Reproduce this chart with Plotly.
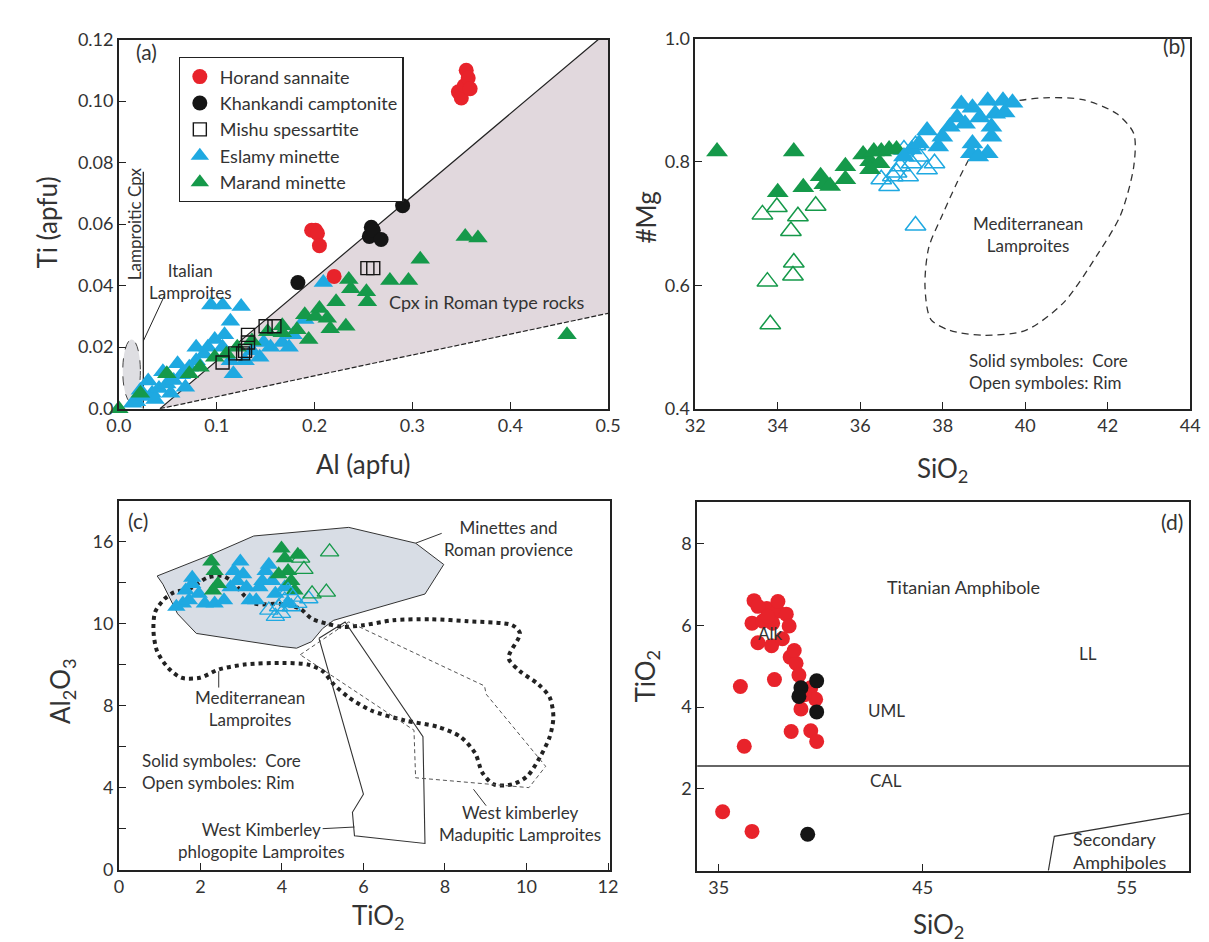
import plotly.graph_objects as go

W, H = 1209, 942
FONT = "Lato"
TXT = "#333333"
RED = "#e8232b"
BLACK = "#151515"
BLUE = "#1fa9e1"
GREEN = "#15994a"

# ---------------- Panel (a): Ti vs Al (apfu) ----------------
A_RED_AL = [0.347, 0.350, 0.353, 0.355, 0.357, 0.359, 0.197, 0.201, 0.203, 0.205, 0.220]
A_RED_TI = [0.103, 0.101, 0.105, 0.110, 0.1075, 0.104, 0.058, 0.058, 0.057, 0.053, 0.043]
A_BLK_AL = [0.183, 0.258, 0.256, 0.260, 0.268, 0.290]
A_BLK_TI = [0.041, 0.059, 0.056, 0.058, 0.055, 0.066]
A_SQ_AL = [0.254, 0.260, 0.150, 0.159, 0.106, 0.119, 0.127, 0.129, 0.132, 0.132]
A_SQ_TI = [0.0457, 0.0457, 0.0268, 0.0268, 0.015, 0.018, 0.018, 0.0188, 0.0215, 0.024]
A_BLUE_AL = [0.014, 0.018, 0.022, 0.026, 0.030, 0.034, 0.037, 0.041, 0.045, 0.049, 0.053, 0.056,
             0.060, 0.064, 0.068, 0.072, 0.079, 0.079, 0.087, 0.091, 0.094, 0.098, 0.106, 0.106,
             0.108, 0.114, 0.114, 0.117, 0.125, 0.129, 0.136, 0.144, 0.148, 0.155, 0.167, 0.174,
             0.178, 0.190, 0.209]
A_BLUE_TI = [0.0018, 0.0023, 0.006, 0.004, 0.009, 0.005, 0.003, 0.0066, 0.012, 0.008, 0.005, 0.0092,
             0.0146, 0.011, 0.007, 0.0135, 0.0156, 0.020, 0.0178, 0.020, 0.0337, 0.0225, 0.0337, 0.020,
             0.024, 0.0284, 0.0156, 0.0114, 0.0332, 0.0156, 0.0188, 0.0167, 0.0215, 0.020, 0.0215, 0.020,
             0.024, 0.029, 0.041]
A_GREEN_AL = [0.000, 0.022, 0.049, 0.072, 0.083, 0.098, 0.110, 0.121, 0.136, 0.152, 0.167, 0.167,
              0.182, 0.190, 0.194, 0.201, 0.205, 0.213, 0.216, 0.222, 0.232, 0.235, 0.237, 0.253,
              0.254, 0.277, 0.296, 0.308, 0.354, 0.367, 0.458]
A_GREEN_TI = [0.000, 0.005, 0.0114, 0.0114, 0.0135, 0.0167, 0.0178, 0.020, 0.022, 0.025, 0.027, 0.0247,
              0.0257, 0.0305, 0.0225, 0.030, 0.0326, 0.0294, 0.026, 0.0348, 0.0268, 0.042, 0.039, 0.038,
              0.0348, 0.0417, 0.0417, 0.0486, 0.056, 0.0555, 0.024]
# field boundaries (a)
A_FIELD_AL = [0.042, 0.49, 0.5, 0.5, 0.042]
A_FIELD_TI = [0.0, 0.12, 0.12, 0.031, 0.0]
A_UPPER_AL = [0.042, 0.49]
A_UPPER_TI = [0.0, 0.12]
A_LOWER_AL = [0.042, 0.5]
A_LOWER_TI = [0.0, 0.031]
A_LAMP_AL = [0.025, 0.025]
A_LAMP_TI = [0.0, 0.077]
A_ITAL_AL = [0.047, 0.025]
A_ITAL_TI = [0.037, 0.022]

# ---------------- Panel (b): #Mg vs SiO2 ----------------
B_GC_SI = [32.53, 34.39, 34.00, 34.62, 35.04, 35.13, 35.27, 35.64, 35.64, 36.07, 36.24, 36.24,
           36.33, 36.47, 36.51, 36.70, 36.88]
B_GC_MG = [0.817, 0.817, 0.751, 0.759, 0.777, 0.764, 0.761, 0.793, 0.772, 0.812, 0.801, 0.788,
           0.817, 0.798, 0.817, 0.820, 0.820]
B_GR_SI = [33.63, 33.98, 34.49, 34.32, 34.92, 33.75, 33.82, 34.39, 34.37]
B_GR_MG = [0.715, 0.727, 0.712, 0.688, 0.729, 0.606, 0.537, 0.637, 0.616]
B_BC_SI = [37.62, 37.99, 38.35, 38.72, 39.09, 39.46, 39.69, 38.90, 39.27, 38.68, 38.72, 39.18,
           39.18, 38.17, 37.89, 39.09, 38.86, 38.54, 37.25, 37.06, 37.43, 38.45, 39.50]
B_BC_MG = [0.851, 0.841, 0.872, 0.888, 0.899, 0.899, 0.896, 0.872, 0.878, 0.814, 0.830, 0.841,
           0.857, 0.857, 0.825, 0.814, 0.809, 0.862, 0.820, 0.809, 0.830, 0.894, 0.880]
B_BR_SI = [36.70, 36.79, 36.51, 36.97, 37.25, 37.43, 37.62, 37.16, 37.06, 37.34, 37.80, 36.88, 37.34]
B_BR_MG = [0.761, 0.777, 0.772, 0.793, 0.798, 0.809, 0.788, 0.777, 0.820, 0.827, 0.798, 0.783, 0.697]
B_MED_SI = [38.63, 38.35, 37.99, 37.66, 37.57, 37.71, 38.17, 39.00, 40.01, 40.93, 41.76, 42.31,
            42.63, 42.63, 42.22, 41.39, 40.47, 39.78]
B_MED_MG = [0.804, 0.767, 0.714, 0.661, 0.598, 0.545, 0.527, 0.519, 0.527, 0.572, 0.651, 0.714,
            0.793, 0.846, 0.878, 0.901, 0.904, 0.899]

# ---------------- Panel (c): Al2O3 vs TiO2 ----------------
C_BC_TI = [1.41, 1.57, 1.72, 1.64, 1.80, 1.96, 2.11, 2.35, 2.58, 2.74, 2.90, 2.98, 2.82, 3.05,
           3.13, 3.21, 3.37, 3.45, 3.52, 3.60, 3.68, 3.76, 3.84, 1.80, 4.07, 4.15]
C_BC_AL = [12.82, 12.98, 13.14, 13.61, 13.93, 13.45, 12.98, 12.98, 13.14, 13.77, 14.08, 15.03, 14.56, 14.40,
           13.77, 13.14, 13.14, 13.77, 14.08, 14.56, 14.87, 14.08, 13.45, 14.24, 13.77, 12.98]
C_GC_TI = [2.27, 2.35, 2.43, 2.31, 3.99, 4.07, 4.15, 4.23, 4.31, 3.92, 4.39]
C_GC_AL = [15.03, 14.56, 13.93, 13.61, 15.66, 15.19, 14.56, 14.08, 13.61, 14.40, 15.35]
C_GR_TI = [4.46, 4.54, 4.74, 5.17, 5.09]
C_GR_AL = [15.19, 14.64, 13.45, 15.50, 13.53]
C_BR_TI = [3.68, 3.92, 4.07, 4.23, 4.39, 4.66, 3.84, 3.99, 4.15, 4.27]
C_BR_AL = [12.66, 12.82, 13.14, 12.82, 12.98, 13.21, 12.35, 12.50, 13.61, 13.29]
C_MIN_TI = [0.94, 2.26, 3.31, 5.64, 7.28, 7.97, 7.51, 5.27, 5.00, 4.73, 4.36, 4.00, 1.90, 1.44, 1.08, 0.94]
C_MIN_AL = [14.32, 15.36, 16.27, 16.69, 15.92, 14.88, 13.44, 12.16, 11.76, 11.12, 10.80, 10.88, 11.52,
            12.48, 13.92, 14.32]
C_MED_TI = [1.35, 1.72, 2.17, 2.54, 2.81, 3.08, 3.36, 4.00, 4.45, 4.73, 5.09, 5.46, 6.00, 6.73, 7.65,
            8.56, 9.65, 9.84, 9.56, 9.84, 10.29, 10.57, 10.66, 10.57, 10.34, 10.02, 9.65, 9.20, 8.92,
            8.74, 8.38, 7.83, 7.01, 6.19, 5.64, 5.27, 5.00, 4.64, 4.00, 3.08, 2.45, 1.99, 1.53, 1.21,
            0.94, 0.85, 0.89, 1.12, 1.35]
C_MED_AL = [13.52, 13.68, 14.24, 14.32, 14.00, 13.36, 12.96, 12.96, 12.72, 12.24, 12.00, 11.84, 11.92,
            12.16, 12.21, 12.11, 11.92, 11.52, 10.32, 9.68, 9.04, 8.40, 7.44, 6.48, 5.52, 4.56, 4.16,
            4.16, 4.72, 5.68, 6.48, 6.96, 7.28, 7.76, 8.40, 9.04, 9.68, 10.00, 10.08, 10.00, 9.76,
            9.36, 9.36, 9.84, 10.64, 11.60, 12.56, 13.20, 13.52]
C_PHL_TI = [4.91, 5.55, 7.46, 7.51, 5.78, 5.73, 6.00, 4.91]
C_PHL_AL = [11.28, 12.08, 6.48, 1.28, 1.65, 2.80, 3.68, 11.28]
C_MAD_TI = [4.45, 5.64, 8.97, 9.01, 10.47, 10.06, 7.28, 7.24, 4.45]
C_MAD_AL = [10.48, 12.08, 8.96, 8.56, 5.04, 4.00, 4.48, 6.80, 10.48]
C_Y_TICKS = [0, 4, 8, 12, 16]
C_Y_TEXT = ["0", "4", "8", "10", "16"]

# ---------------- Panel (d): TiO2 vs SiO2 ----------------
D_RED_SI = [36.73, 37.35, 37.88, 38.31, 36.63, 37.16, 37.64, 38.45, 36.92, 37.59, 38.12, 38.50,
            38.79, 38.93, 37.73, 36.06, 39.51, 39.03, 39.75, 38.55, 39.51, 39.80, 36.25, 35.19,
            36.63, 36.92, 37.40, 37.90, 38.70, 39.20]
D_RED_TI = [6.60, 6.41, 6.34, 6.27, 6.05, 6.10, 6.05, 5.98, 5.57, 5.50, 5.67, 5.22,
            5.07, 4.78, 4.67, 4.50, 4.47, 3.95, 4.19, 3.40, 3.42, 3.16, 3.04, 1.44,
            0.96, 6.46, 6.22, 6.58, 5.38, 4.30]
D_BLK_SI = [39.80, 39.03, 38.93, 39.80, 39.36]
D_BLK_TI = [4.64, 4.47, 4.26, 3.88, 0.89]
D_CAL_SI = [33.94, 58.07]
D_CAL_TI = [2.56, 2.56]
D_SEC_SI = [51.16, 51.45, 58.07]
D_SEC_TI = [0.0, 0.84, 1.40]


def px_x(l, r):
    return [l / W, r / W]


def px_y(t, b):
    return [1 - b / H, 1 - t / H]


fig = go.Figure()


def line(x, y, xa, ya, color="black", width=1, dash="solid", fill=None, fillcolor=None, shape="linear"):
    fig.add_trace(go.Scatter(x=x, y=y, xaxis=xa, yaxis=ya, mode="lines", showlegend=False,
                             hoverinfo="skip", fill=fill, fillcolor=fillcolor,
                             line=dict(color=color, width=width, dash=dash, shape=shape, smoothing=0.8)))


def pts(x, y, xa, ya, symbol, color, size, name=None, legend=False, lw=0, rank=None):
    fig.add_trace(go.Scatter(x=x, y=y, xaxis=xa, yaxis=ya, mode="markers", name=name,
                             showlegend=legend, legendrank=rank if rank else 1000, cliponaxis=False,
                             marker=dict(symbol=symbol, color=color, size=size,
                                         line=dict(width=lw, color=color))))


# ----- panel (a)
line(A_FIELD_AL, A_FIELD_TI, "x", "y", color="rgba(0,0,0,0)", width=0, fill="toself",
     fillcolor="rgb(225,216,221)")
line(A_UPPER_AL, A_UPPER_TI, "x", "y", color="#222", width=1.2)
line(A_LOWER_AL, A_LOWER_TI, "x", "y", color="#222", width=1.2, dash="5px,2px")
line(A_LAMP_AL, A_LAMP_TI, "x", "y", color="#222", width=1.3)
line(A_ITAL_AL, A_ITAL_TI, "x", "y", color="#222", width=1)
fig.add_shape(type="circle", xref="x", yref="y", x0=0.004, x1=0.022, y0=0.002, y1=0.0225,
              line=dict(color="#444", width=1, dash="dash"), fillcolor="rgb(222,222,226)", layer="below")

pts(A_BLUE_AL, A_BLUE_TI, "x", "y", "triangle-up", BLUE, 17, "Eslamy minette", True, rank=4)
pts(A_GREEN_AL, A_GREEN_TI, "x", "y", "triangle-up", GREEN, 17, "Marand minette", True, rank=5)
pts(A_SQ_AL, A_SQ_TI, "x", "y", "square-open", BLACK, 13, "Mishu spessartite", True, lw=1.4, rank=3)
pts(A_BLK_AL, A_BLK_TI, "x", "y", "circle", BLACK, 15, "Khankandi camptonite", True, rank=2)
pts(A_RED_AL, A_RED_TI, "x", "y", "circle", RED, 15, "Horand sannaite", True, rank=1)

# ----- panel (b)
line(B_MED_SI, B_MED_MG, "x2", "y2", color="#333", width=1.3, dash="7px,5px", shape="spline")
pts(B_GR_SI, B_GR_MG, "x2", "y2", "triangle-up-open", GREEN, 18, lw=1.5)
pts(B_BR_SI, B_BR_MG, "x2", "y2", "triangle-up-open", BLUE, 18, lw=1.5)
pts(B_GC_SI, B_GC_MG, "x2", "y2", "triangle-up", GREEN, 19)
pts(B_BC_SI, B_BC_MG, "x2", "y2", "triangle-up", BLUE, 19)

# ----- panel (c)
line(C_MIN_TI, C_MIN_AL, "x3", "y3", color="#333", width=1, fill="toself", fillcolor="rgb(216,221,229)")
line(C_MED_TI, C_MED_AL, "x3", "y3", color="#222", width=4, dash="dot", shape="spline")
line(C_PHL_TI, C_PHL_AL, "x3", "y3", color="#333", width=1.1)
line(C_MAD_TI, C_MAD_AL, "x3", "y3", color="#555", width=1, dash="4px,3px")
line([7.28, 7.92], [15.92, 16.40], "x3", "y3", color="#333", width=1)
line([2.45, 2.45], [9.68, 8.88], "x3", "y3", color="#333", width=1)
line([5.00, 5.78], [2.00, 2.08], "x3", "y3", color="#333", width=1)
line([8.70, 9.01], [3.92, 3.12], "x3", "y3", color="#333", width=1)
pts(C_BC_TI, C_BC_AL, "x3", "y3", "triangle-up", BLUE, 16)
pts(C_GC_TI, C_GC_AL, "x3", "y3", "triangle-up", GREEN, 16)
pts(C_BR_TI, C_BR_AL, "x3", "y3", "triangle-up-open", BLUE, 16, lw=1.3)
pts(C_GR_TI, C_GR_AL, "x3", "y3", "triangle-up-open", GREEN, 16, lw=1.3)

# ----- panel (d)
line(D_CAL_SI, D_CAL_TI, "x4", "y4", color="#333", width=1.5)
line(D_SEC_SI, D_SEC_TI, "x4", "y4", color="#333", width=1.2)
pts(D_RED_SI, D_RED_TI, "x4", "y4", "circle", RED, 15)
pts(D_BLK_SI, D_BLK_TI, "x4", "y4", "circle", BLACK, 15)


def axis(domain, rng, tickvals, ticktext, anchor, minor_dtick=None):
    d = dict(domain=domain, range=rng, anchor=anchor, showline=True, linecolor="#222",
             linewidth=1.5, mirror=True, ticks="inside", ticklen=7, tickwidth=1.3, tickcolor="#222",
             showgrid=False, zeroline=False, tickmode="array", tickvals=tickvals, ticktext=ticktext,
             tickfont=dict(family=FONT, size=18, color=TXT), layer="above traces")
    if minor_dtick:
        d["minor"] = dict(dtick=minor_dtick, tick0=0, ticks="inside", ticklen=7, tickwidth=1.3,
                          tickcolor="#222", showgrid=False)
    return d


A_X_TICKS = [0, 0.1, 0.2, 0.3, 0.4, 0.5]
A_Y_TICKS = [0, 0.02, 0.04, 0.06, 0.08, 0.10, 0.12]
B_X_TICKS = [32, 34, 36, 38, 40, 42, 44]
B_Y_TICKS = [0.4, 0.6, 0.8, 1.0]
C_X_TICKS = [0, 2, 4, 6, 8, 10, 12]
D_X_TICKS = [35, 45, 55]
D_Y_TICKS = [2, 4, 6, 8]

layout = dict(
    width=W, height=H, margin=dict(l=0, r=0, t=0, b=0), paper_bgcolor="white", plot_bgcolor="white",
    font=dict(family=FONT, color=TXT),
    xaxis=axis(px_x(100, 600), [0, 0.5], A_X_TICKS, ["0.0", "0.1", "0.2", "0.3", "0.4", "0.5"], "y"),
    yaxis=axis(px_y(20, 398), [0, 0.12], A_Y_TICKS,
               ["0.0", "0.02", "0.04", "0.06", "0.08", "0.10", "0.12"], "x"),
    xaxis2=axis(px_x(689, 1195), [32, 44], B_X_TICKS, [str(v) for v in B_X_TICKS], "y2"),
    yaxis2=axis(px_y(19, 398), [0.4, 1.0], B_Y_TICKS, ["0.4", "0.6", "0.8", "1.0"], "x2"),
    xaxis3=axis(px_x(100, 602), [0, 12.05], C_X_TICKS, [str(v) for v in C_X_TICKS], "y3"),
    yaxis3=axis(px_y(492, 870), [0, 18], C_Y_TICKS, C_Y_TEXT, "x3", minor_dtick=2),
    xaxis4=axis(px_x(691, 1194), [33.94, 58.07], D_X_TICKS, [str(v) for v in D_X_TICKS], "y4"),
    yaxis4=axis(px_y(494, 871), [0, 9], D_Y_TICKS, [str(v) for v in D_Y_TICKS], "x4"),
    legend=dict(x=161 / W, y=1 - 38 / H, xanchor="left", yanchor="top", bordercolor="#222", borderwidth=1.3,
                bgcolor="white", font=dict(family=FONT, size=18, color=TXT), traceorder="normal",
                itemwidth=30, tracegroupgap=0),
)
fig.update_layout(**layout)


def note(text, x, y, xref, yref, size=17, align="center", xanchor="center", angle=0, yanchor="middle"):
    fig.add_annotation(text=text, x=x, y=y, xref=xref, yref=yref, showarrow=False, align=align,
                       xanchor=xanchor, yanchor=yanchor, textangle=angle,
                       font=dict(family=FONT, size=size, color=TXT))


# panel (a) texts
note("(a)", 0.028, 0.116, "x", "y", size=21)
note("Lamproitic Cpx", 0.0155, 0.060, "x", "y", size=17, angle=-90)
note("Italian<br>Lamproites", 0.0735, 0.0414, "x", "y", size=17)
note("Cpx in Roman type rocks", 0.376, 0.0348, "x", "y", size=18)
# panel (b) texts
note("(b)", 43.6, 0.988, "x2", "y2", size=21)
note("Mediterranean<br>Lamproites", 40.06, 0.682, "x2", "y2", size=17)
note("Solid symboles:  Core<br>Open symboles: Rim", 38.58, 0.46, "x2", "y2", size=17, align="left",
     xanchor="left")
# panel (c) texts
note("(c)", 0.48, 17.04, "x3", "y3", size=21)
note("Minettes and<br>Roman provience", 9.56, 16.16, "x3", "y3", size=17)
note("Mediterranean<br>Lamproites", 3.22, 7.84, "x3", "y3", size=17)
note("Solid symboles:  Core<br>Open symboles: Rim", 0.53, 4.77, "x3", "y3", size=17, align="left",
     xanchor="left")
note("West Kimberley<br>phlogopite Lamproites", 3.49, 1.44, "x3", "y3", size=17)
note("West kimberley<br>Madupitic Lamproites", 9.84, 2.24, "x3", "y3", size=17)
# panel (d) texts
note("(d)", 57.2, 8.54, "x4", "y4", size=21)
note("Titanian Amphibole", 47.0, 6.94, "x4", "y4", size=18)
note("Alk", 37.5, 5.79, "x4", "y4", size=17)
note("LL", 53.1, 5.31, "x4", "y4", size=17)
note("UML", 43.2, 3.92, "x4", "y4", size=17)
note("CAL", 43.2, 2.20, "x4", "y4", size=17)
note("Secondary<br>Amphiboles", 52.25, 0.5, "x4", "y4", size=18, align="left", xanchor="left")

# axis titles (paper coords from pixel positions)
note("Ti (apfu)", 27 / W, 1 - 207 / H, "paper", "paper", size=26, angle=-90)
note("Al (apfu)", 350 / W, 1 - 455 / H, "paper", "paper", size=26)
note("#Mg", 639 / W, 1 - 202 / H, "paper", "paper", size=26, angle=-90)
note("SiO<sub>2</sub>", 942 / W, 1 - 460 / H, "paper", "paper", size=26)
note("Al<sub>2</sub>O<sub>3</sub>", 42 / W, 1 - 687 / H, "paper", "paper", size=26, angle=-90)
note("TiO<sub>2</sub>", 365 / W, 1 - 918 / H, "paper", "paper", size=26)
note("TiO<sub>2</sub>", 639 / W, 1 - 672 / H, "paper", "paper", size=26, angle=-90)
note("SiO<sub>2</sub>", 938 / W, 1 - 927 / H, "paper", "paper", size=26)

fig.write_html("out.html")
